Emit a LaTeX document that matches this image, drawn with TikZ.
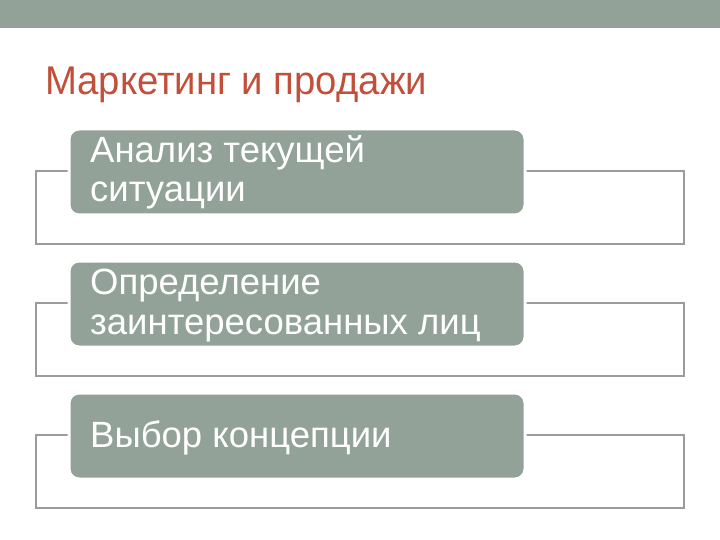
\documentclass[tikz,border=0pt]{standalone}
\usepackage{fontspec}
\setmainfont{Liberation Sans}
\usepackage{xcolor}
\usetikzlibrary{positioning}
\definecolor{sagegray}{HTML}{93A299}
\definecolor{titlered}{HTML}{C24F3A}
\definecolor{framegray}{HTML}{9C9C9C}
\tikzset{
	stagebox/.style={rectangle,rounded corners=10pt,fill=sagegray,draw=white,line width=3pt,
		anchor=north west,minimum width=456pt,minimum height=86pt,inner sep=0pt},
	stagetext/.style={anchor=base west,align=left,text=white,inner sep=0pt,
		font=\fontsize{36.5}{39.5}\selectfont},
	stageframe/.style={draw=framegray,line width=1.8pt}
}

\begin{document}
\begin{tikzpicture}[x=1pt,y=-1pt]
	\useasboundingbox (0,0) rectangle (720,540);
	\fill[sagegray] (0,0) rectangle (720,28);
	\node[anchor=base west,inner sep=0pt,text=titlered,font=\fontsize{40}{44}\selectfont] (title) at (45,95) {\scalebox{0.957}[1]{Маркетинг и продажи}};
	% frames behind the boxes
	\draw[stageframe] (36,171) rectangle (684,244);
	\draw[stageframe] (36,303) rectangle (684,376);
	\draw[stageframe] (36,435) rectangle (684,508);
	% boxes
	\node[stagebox] (analysis) at (67.5,127.5) {};
	\node[stagebox] (stakeholders) at (67.5,259.5) {};
	\node[stagebox] (concept) at (67.5,391.5) {};
	\node[stagetext] (analysistext) at (90,202) {Анализ текущей\\ситуации};
	\node[stagetext] (stakeholderstext) at (90,334) {Определение\\заинтересованных лиц};
	\node[stagetext] (concepttext) at (90,447) {Выбор концепции};
\end{tikzpicture}
\end{document}
